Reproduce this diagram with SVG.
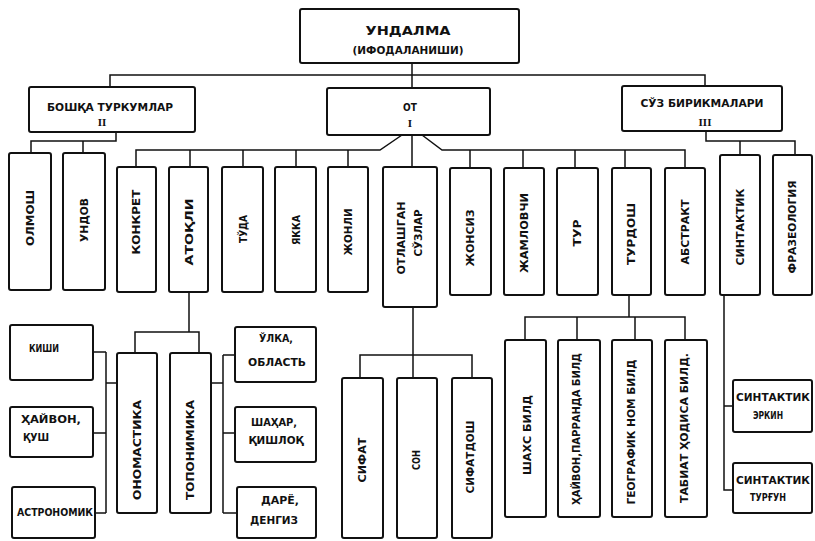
<svg xmlns="http://www.w3.org/2000/svg" width="815" height="541" viewBox="0 0 815 541">
<style>
.box{fill:#fff;stroke:#111;stroke-width:2}
.ln{fill:none;stroke:#111;stroke-width:1.5}
text{font-family:"DejaVu Sans Condensed","Liberation Sans",sans-serif;font-weight:bold;fill:#111;font-size:10px;text-anchor:middle;dominant-baseline:central}
.vt{font-size:11px}
.rn{font-family:"Liberation Serif",serif;font-size:11px}
</style>
<rect width="815" height="541" fill="#fff"/>
<g id="connectors">
<path class="ln" d="M412,63V88M110,87V75H705V86"/>
<path class="ln" d="M116,132V141H31V153M83,141V153"/>
<path class="ln" d="M706,131V141H795V155M740,141V155"/>
<path class="ln" d="M136,167V150H380L402,135M422,135L442,150H685V167M412,135V167"/>
<path class="ln" d="M190,150V167M243,150V167M296,150V167M348,150V167M470,150V168M523,150V168M575,150V168M625,150V168"/>
<path class="ln" d="M189,292V332M135,353V332H199V353"/>
<path class="ln" d="M93,352H106M106,352V513M93,433H106M95,513H106M106,383H117"/>
<path class="ln" d="M211,383H223M223,355V513M223,355H235M223,433H235M223,513H237"/>
<path class="ln" d="M413,307V378M360,378V355H472V378"/>
<path class="ln" d="M629,295V317M525,340V317H685V340M577,317V340M635,317V340"/>
<path class="ln" d="M724,295V490H733M724,406H733"/>
</g>
<g id="n-undalma"><rect class="box" x="300" y="9" width="219" height="54" rx="2"/><text x="408" y="30" style="font-size:13px" textLength="85" lengthAdjust="spacingAndGlyphs">УНДАЛМА</text><text x="408" y="50" style="font-size:11px" textLength="111" lengthAdjust="spacingAndGlyphs">(ИФОДАЛАНИШИ)</text></g>
<g id="n-boshqa"><rect class="box" x="29" y="87" width="166" height="45" rx="2"/><text x="110" y="107" textLength="126" lengthAdjust="spacingAndGlyphs">БОШҚА ТУРКУМЛАР</text><text class="rn" x="102" y="122">II</text></g>
<g id="n-ot"><rect class="box" x="327" y="88" width="163" height="47" rx="2"/><text x="410" y="107">ОТ</text><text class="rn" x="410" y="123">I</text></g>
<g id="n-soz"><rect class="box" x="622" y="86" width="160" height="45" rx="2"/><text x="702" y="103" textLength="123" lengthAdjust="spacingAndGlyphs">СЎЗ БИРИКМАЛАРИ</text><text class="rn" x="705" y="122">III</text></g>
<g id="n-olmosh"><rect class="box" x="9" y="153" width="42" height="137" rx="2"/><text class="vt" transform="translate(30,218) rotate(-90)" textLength="56" lengthAdjust="spacingAndGlyphs">ОЛМОШ</text></g>
<g id="n-undov"><rect class="box" x="63" y="153" width="42" height="137" rx="2"/><text class="vt" transform="translate(84,220) rotate(-90)" textLength="44" lengthAdjust="spacingAndGlyphs">УНДОВ</text></g>
<g id="n-konkret"><rect class="box" x="117" y="167" width="39" height="125" rx="2"/><text class="vt" transform="translate(136,222) rotate(-90)" textLength="65" lengthAdjust="spacingAndGlyphs">КОНКРЕТ</text></g>
<g id="n-atoqli"><rect class="box" x="169" y="167" width="39" height="125" rx="2"/><text class="vt" transform="translate(189,232) rotate(-90)" textLength="67" lengthAdjust="spacingAndGlyphs">АТОҚЛИ</text></g>
<g id="n-toda"><rect class="box" x="222" y="167" width="41" height="125" rx="2"/><text class="vt" transform="translate(243,229) rotate(-90)" textLength="28" lengthAdjust="spacingAndGlyphs">ТЎДА</text></g>
<g id="n-yakka"><rect class="box" x="275" y="167" width="41" height="125" rx="2"/><text class="vt" transform="translate(296,230) rotate(-90)" textLength="30" lengthAdjust="spacingAndGlyphs">ЯККА</text></g>
<g id="n-jonli"><rect class="box" x="328" y="167" width="40" height="125" rx="2"/><text class="vt" transform="translate(348,232) rotate(-90)" textLength="47" lengthAdjust="spacingAndGlyphs">ЖОНЛИ</text></g>
<g id="n-otlashgan"><rect class="box" x="383" y="167" width="54" height="140" rx="2"/><text class="vt" transform="translate(401,238) rotate(-90)" textLength="73" lengthAdjust="spacingAndGlyphs">ОТЛАШГАН</text><text class="vt" transform="translate(418,233) rotate(-90)" textLength="47" lengthAdjust="spacingAndGlyphs">СЎЗЛАР</text></g>
<g id="n-jonsiz"><rect class="box" x="450" y="168" width="41" height="127" rx="2"/><text class="vt" transform="translate(470,238) rotate(-90)" textLength="57" lengthAdjust="spacingAndGlyphs">ЖОНСИЗ</text></g>
<g id="n-jamlovchi"><rect class="box" x="504" y="168" width="40" height="127" rx="2"/><text class="vt" transform="translate(524,233) rotate(-90)" textLength="80" lengthAdjust="spacingAndGlyphs">ЖАМЛОВЧИ</text></g>
<g id="n-tur"><rect class="box" x="557" y="168" width="41" height="127" rx="2"/><text class="vt" transform="translate(577,233) rotate(-90)" textLength="27" lengthAdjust="spacingAndGlyphs">ТУР</text></g>
<g id="n-turdosh"><rect class="box" x="612" y="168" width="39" height="127" rx="2"/><text class="vt" transform="translate(631,234) rotate(-90)" textLength="62" lengthAdjust="spacingAndGlyphs">ТУРДОШ</text></g>
<g id="n-abstrakt"><rect class="box" x="665" y="168" width="40" height="127" rx="2"/><text class="vt" transform="translate(685,232) rotate(-90)" textLength="65" lengthAdjust="spacingAndGlyphs">АБСТРАКТ</text></g>
<g id="n-sintaktik"><rect class="box" x="720" y="155" width="40" height="140" rx="2"/><text class="vt" transform="translate(740,227) rotate(-90)" textLength="77" lengthAdjust="spacingAndGlyphs">СИНТАКТИК</text></g>
<g id="n-frazeologiya"><rect class="box" x="773" y="155" width="39" height="140" rx="2"/><text class="vt" transform="translate(792,227) rotate(-90)" textLength="93" lengthAdjust="spacingAndGlyphs">ФРАЗЕОЛОГИЯ</text></g>
<g id="n-kishi"><rect class="box" x="10" y="325" width="83" height="55" rx="2"/><text x="44" y="348" textLength="30" lengthAdjust="spacingAndGlyphs">КИШИ</text></g>
<g id="n-hayvon"><rect class="box" x="10" y="407" width="83" height="50" rx="2"/><text x="51" y="419" textLength="60" lengthAdjust="spacingAndGlyphs">ҲАЙВОН,</text><text x="36" y="437" textLength="26" lengthAdjust="spacingAndGlyphs">ҚУШ</text></g>
<g id="n-astronomik"><rect class="box" x="12" y="487" width="83" height="51" rx="2"/><text x="55" y="512" textLength="76" lengthAdjust="spacingAndGlyphs">АСТРОНОМИК</text></g>
<g id="n-onomastika"><rect class="box" x="117" y="353" width="40" height="160" rx="2"/><text class="vt" transform="translate(137,450) rotate(-90)" textLength="100" lengthAdjust="spacingAndGlyphs">ОНОМАСТИКА</text></g>
<g id="n-toponimika"><rect class="box" x="170" y="353" width="41" height="160" rx="2"/><text class="vt" transform="translate(190,450) rotate(-90)" textLength="100" lengthAdjust="spacingAndGlyphs">ТОПОНИМИКА</text></g>
<g id="n-olka"><rect class="box" x="235" y="327" width="81" height="55" rx="2"/><text x="276" y="338" textLength="34" lengthAdjust="spacingAndGlyphs">ЎЛКА,</text><text x="277" y="362" textLength="58" lengthAdjust="spacingAndGlyphs">ОБЛАСТЬ</text></g>
<g id="n-shahar"><rect class="box" x="235" y="407" width="81" height="55" rx="2"/><text x="274" y="422" textLength="46" lengthAdjust="spacingAndGlyphs">ШАҲАР,</text><text x="276" y="440" textLength="55" lengthAdjust="spacingAndGlyphs">ҚИШЛОҚ</text></g>
<g id="n-darye"><rect class="box" x="237" y="487" width="79" height="51" rx="2"/><text x="280" y="500" textLength="38" lengthAdjust="spacingAndGlyphs">ДАРЁ,</text><text x="274" y="520" textLength="48" lengthAdjust="spacingAndGlyphs">ДЕНГИЗ</text></g>
<g id="n-sifat"><rect class="box" x="342" y="378" width="41" height="160" rx="2"/><text class="vt" transform="translate(362,460) rotate(-90)" textLength="45" lengthAdjust="spacingAndGlyphs">СИФАТ</text></g>
<g id="n-son"><rect class="box" x="397" y="378" width="40" height="160" rx="2"/><text class="vt" transform="translate(416,460) rotate(-90)" textLength="20" lengthAdjust="spacingAndGlyphs">СОН</text></g>
<g id="n-sifatdosh"><rect class="box" x="452" y="378" width="40" height="160" rx="2"/><text class="vt" transform="translate(470,457) rotate(-90)" textLength="73" lengthAdjust="spacingAndGlyphs">СИФАТДОШ</text></g>
<g id="n-shaxs"><rect class="box" x="505" y="340" width="41" height="177" rx="2"/><text class="vt" transform="translate(527,435) rotate(-90)" textLength="80" lengthAdjust="spacingAndGlyphs">ШАХС БИЛД</text></g>
<g id="n-parranda"><rect class="box" x="558" y="340" width="42" height="177" rx="2"/><text class="vt" transform="translate(576,429) rotate(-90)" textLength="152" lengthAdjust="spacingAndGlyphs">ҲАЙВОН,ПАРРАНДА БИЛД</text></g>
<g id="n-geografik"><rect class="box" x="612" y="340" width="40" height="177" rx="2"/><text class="vt" transform="translate(631,432) rotate(-90)" textLength="145" lengthAdjust="spacingAndGlyphs">ГЕОГРАФИК НОМ БИЛД</text></g>
<g id="n-tabiat"><rect class="box" x="665" y="340" width="42" height="177" rx="2"/><text class="vt" transform="translate(684,428) rotate(-90)" textLength="150" lengthAdjust="spacingAndGlyphs">ТАБИАТ ҲОДИСА БИЛД.</text></g>
<g id="n-erkin"><rect class="box" x="733" y="380" width="79" height="52" rx="2"/><text x="773" y="397" textLength="74" lengthAdjust="spacingAndGlyphs">СИНТАКТИК</text><text x="768" y="415" textLength="30" lengthAdjust="spacingAndGlyphs">ЭРКИН</text></g>
<g id="n-turgun"><rect class="box" x="733" y="463" width="79" height="50" rx="2"/><text x="773" y="480" textLength="74" lengthAdjust="spacingAndGlyphs">СИНТАКТИК</text><text x="768" y="497" textLength="36" lengthAdjust="spacingAndGlyphs">ТУРҒУН</text></g>
</svg>
